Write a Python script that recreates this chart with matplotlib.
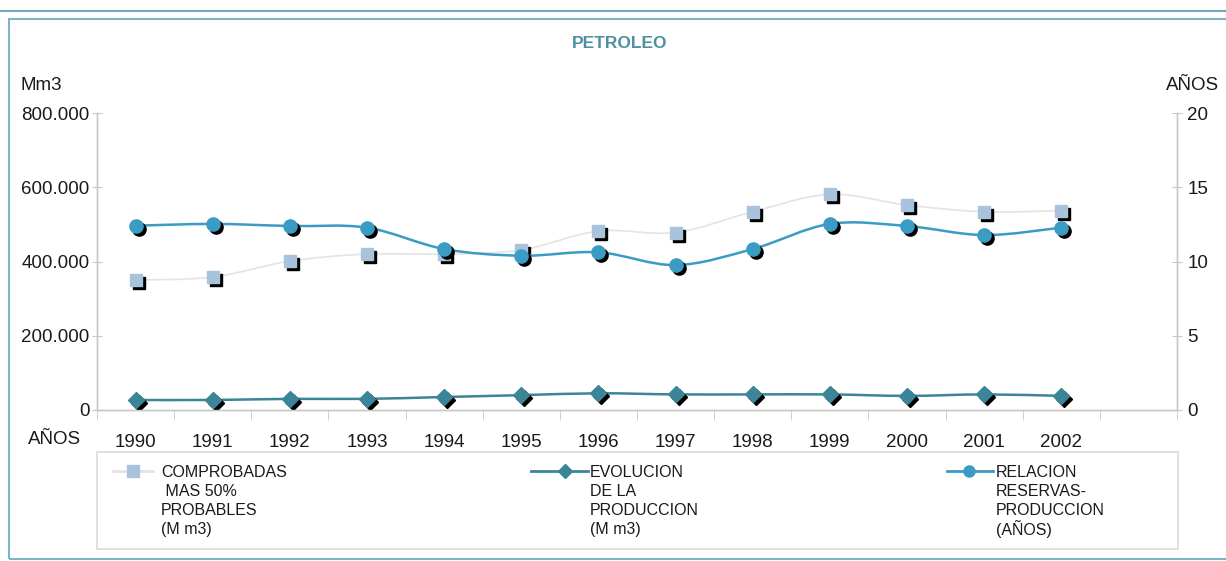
import numpy as np
import matplotlib
matplotlib.use("Agg")
import matplotlib.pyplot as plt
from matplotlib.path import Path
from matplotlib.patches import PathPatch, Rectangle
from matplotlib.lines import Line2D
from matplotlib.transforms import ScaledTranslation

plt.rcParams['font.family'] = ['Liberation Sans', 'DejaVu Sans']

# data
years = ["1990", "1991", "1992", "1993", "1994", "1995", "1996",
         "1997", "1998", "1999", "2000", "2001", "2002"]
comprobadas = [350, 358, 401, 420, 420, 431, 482, 478, 534, 581, 552, 534, 537]
produccion = [27, 27, 30, 30, 35, 40, 45, 42, 42, 42, 38, 42, 38]
relacion = [12.41, 12.53, 12.39, 12.28, 10.84, 10.39, 10.62, 9.76, 10.84,
            12.53, 12.39, 11.78, 12.28]

W, H = 1226, 561
C_SQ = "#a9c3dc"
C_SQ_LINE = "#e4e4e4"
C_DIA = "#3b8598"
C_CIR = "#3a9cc4"
C_AX = "#c8c8c8"
C_TXT = "#1a1a1a"


def fpx(x, y):
    # pixel (from top-left) -> figure fraction
    return x / W, 1 - y / H


def smooth_path(xs, ys):
    # Excel-like smoothed line as cubic bezier segments through the points
    p = np.column_stack([xs, ys]).astype(float)
    n = len(p)
    verts = [p[0]]
    codes = [Path.MOVETO]
    for i in range(n - 1):
        p0 = p[max(i - 1, 0)]
        p1 = p[i]
        p2 = p[i + 1]
        p3 = p[min(i + 2, n - 1)]
        c1 = p1 + (p2 - p0) / 6
        c2 = p2 - (p3 - p1) / 6
        verts += [c1, c2, p2]
        codes += [Path.CURVE4] * 3
    return Path(verts, codes)


fig = plt.figure(figsize=(W / 100, H / 100), dpi=100)
fig.patch.set_facecolor("white")

# outer frame
fig.add_artist(Line2D([0, 1], [1 - 11 / H] * 2, transform=fig.transFigure,
                      color="#6fa9ba", lw=1.5))
fig.add_artist(Rectangle(fpx(9, 559), (W + 20) / W, (559 - 19) / H,
                         transform=fig.transFigure, fill=False,
                         edgecolor="#7db4c4", lw=1.5))

x0, x1, ytop, ybot = 97, 1177, 113, 410
ax = fig.add_axes([x0 / W, 1 - ybot / H, (x1 - x0) / W, (ybot - ytop) / H])
ax2 = ax.twinx()

x = np.arange(len(years))
ax.set_xlim(-0.5, len(years) + 0.5)
ax.set_ylim(0, 800)
ax2.set_ylim(0, 20)

for a in (ax, ax2):
    a.patch.set_visible(False)
    a.spines["top"].set_visible(False)
    for s in ("left", "right", "bottom"):
        a.spines[s].set_color(C_AX)
        a.spines[s].set_linewidth(1.0)

ax.set_yticks([0, 200, 400, 600, 800])
ax.set_yticklabels(["0", "200.000", "400.000", "600.000", "800.000"])
ax2.set_yticks([0, 5, 10, 15, 20])
ax.tick_params(axis="y", direction="inout", length=7, color=C_AX,
               labelsize=13.5, labelcolor=C_TXT, pad=2)
ax2.tick_params(axis="y", direction="inout", length=7, color=C_AX,
                labelsize=13.5, labelcolor=C_TXT, pad=4)

ax.set_xticks(x)
ax.set_xticklabels(years)
ax.set_xticks(np.arange(-0.5, len(years) + 1, 1), minor=True)
ax.tick_params(axis="x", which="major", length=0, labelsize=13.5,
               labelcolor=C_TXT, pad=17)
ax.tick_params(axis="x", which="minor", direction="out", length=7, color=C_AX)

shadow = ScaledTranslation(3 / 100, -3 / 100, fig.dpi_scale_trans)

# COMPROBADAS MAS 50% PROBABLES
ax.add_patch(PathPatch(smooth_path(x, comprobadas), fill=False,
                       edgecolor=C_SQ_LINE, lw=1.2, zorder=2))
ax.plot(x, comprobadas, ls="none", marker="s", ms=8.5, color="black",
        transform=ax.transData + shadow, zorder=3)
ax.plot(x, comprobadas, ls="none", marker="s", ms=8.5, color=C_SQ, zorder=4)

# EVOLUCION DE LA PRODUCCION
ax.add_patch(PathPatch(smooth_path(x, produccion), fill=False,
                       edgecolor=C_DIA, lw=1.8, zorder=2))
ax.plot(x, produccion, ls="none", marker="D", ms=8, color="black",
        transform=ax.transData + shadow, zorder=3)
ax.plot(x, produccion, ls="none", marker="D", ms=8, color=C_DIA, zorder=4)

# RELACION RESERVAS-PRODUCCION
ax2.add_patch(PathPatch(smooth_path(x, relacion), fill=False,
                        edgecolor=C_CIR, lw=1.8, zorder=2))
ax2.plot(x, relacion, ls="none", marker="o", ms=9.5, color="black",
         transform=ax2.transData + shadow, zorder=3)
ax2.plot(x, relacion, ls="none", marker="o", ms=9.5, color=C_CIR, zorder=4)

# texts
fig.text(*fpx(620, 44), "PETROLEO", ha="center", va="center",
         fontsize=12.5, fontweight="bold", color="#4f8fa2")
fig.text(*fpx(20, 85), "Mm3", ha="left", va="center", fontsize=13.5, color=C_TXT)
fig.text(*fpx(1219, 85), "AÑOS", ha="right", va="center", fontsize=13.5, color=C_TXT)
fig.text(*fpx(28, 439), "AÑOS", ha="left", va="center", fontsize=13.5, color=C_TXT)

# legend
fig.add_artist(Rectangle(fpx(97, 549), (1178 - 97) / W, (549 - 452) / H,
                         transform=fig.transFigure, fill=False,
                         edgecolor="#dcdcdc", lw=1.2))
entries = [
    (133, 113, 153, 161, "s", C_SQ, C_SQ_LINE, 8.5,
     ["COMPROBADAS", " MAS 50%", "PROBABLES", "(M m3)"]),
    (565, 531, 588, 590, "D", C_DIA, C_DIA, 7.5,
     ["EVOLUCION", "DE LA", "PRODUCCION", "(M m3)"]),
    (969, 947, 993, 996, "o", C_CIR, C_CIR, 8,
     ["RELACION", "RESERVAS-", "PRODUCCION", "(AÑOS)"]),
]
line_y = [471, 490, 509, 528]
for mx, lx0, lx1, tx, mk, mc, lc, ms, lines in entries:
    fig.add_artist(Line2D([lx0 / W, lx1 / W], [1 - line_y[0] / H] * 2,
                          transform=fig.transFigure, color=lc, lw=2))
    fig.add_artist(Line2D([mx / W], [1 - line_y[0] / H], transform=fig.transFigure,
                          marker=mk, ms=ms, color=mc, ls="none"))
    for ty, txt in zip(line_y, lines):
        fig.text(*fpx(tx, ty), txt, ha="left", va="center_baseline",
                 fontsize=11.5, color=C_TXT)

fig.savefig("out.png", dpi=100)
